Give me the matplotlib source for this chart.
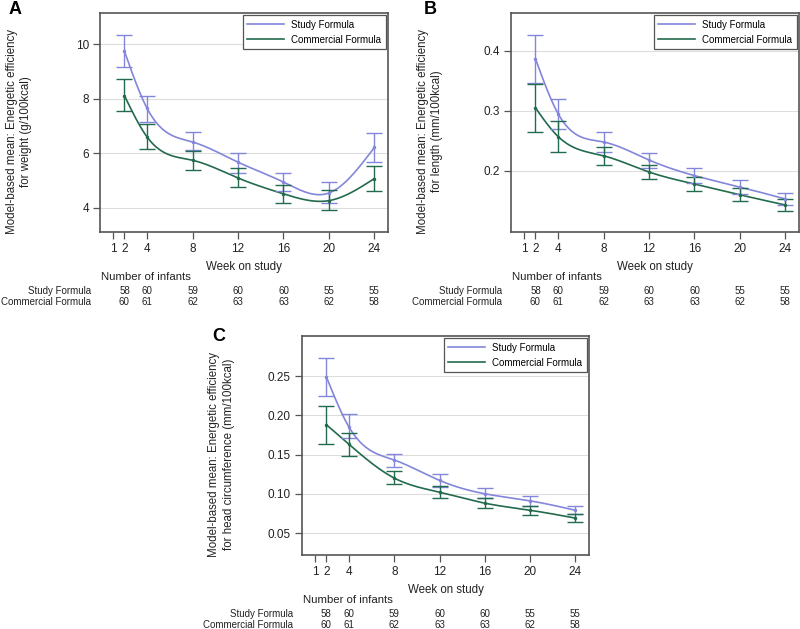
import numpy as np
import matplotlib
matplotlib.use('Agg')
import matplotlib.pyplot as plt
from matplotlib.transforms import blended_transform_factory

plt.rcParams['font.family'] = ['Liberation Sans', 'DejaVu Sans']

weeks = [2, 4, 8, 12, 16, 20, 24]
tick_weeks = [1, 2, 4, 8, 12, 16, 20, 24]
n_study = [58, 60, 59, 60, 60, 55, 55]
n_comm = [60, 61, 62, 63, 63, 62, 58]

# panel A: weight (g/100kcal)
a_study = [9.75, 7.65, 6.42, 5.68, 4.95, 4.55, 6.22]
a_study_lo = [9.18, 7.15, 6.12, 5.30, 4.62, 4.18, 5.68]
a_study_hi = [10.35, 8.12, 6.80, 6.02, 5.30, 4.95, 6.75]
a_comm = [8.12, 6.60, 5.75, 5.10, 4.52, 4.27, 5.08]
a_comm_lo = [7.55, 6.15, 5.40, 4.78, 4.20, 3.92, 4.62]
a_comm_hi = [8.72, 7.08, 6.10, 5.45, 4.85, 4.65, 5.55]

# panel B: length (mm/100kcal)
b_study = [0.387, 0.295, 0.248, 0.218, 0.192, 0.173, 0.153]
b_study_lo = [0.347, 0.270, 0.232, 0.205, 0.180, 0.162, 0.143]
b_study_hi = [0.427, 0.320, 0.265, 0.230, 0.205, 0.185, 0.163]
b_comm = [0.305, 0.257, 0.225, 0.198, 0.178, 0.160, 0.143]
b_comm_lo = [0.265, 0.232, 0.210, 0.187, 0.166, 0.150, 0.133]
b_comm_hi = [0.345, 0.283, 0.240, 0.210, 0.190, 0.172, 0.153]

# panel C: head circumference (mm/100kcal)
c_study = [0.249, 0.185, 0.143, 0.117, 0.100, 0.091, 0.079]
c_study_lo = [0.224, 0.171, 0.134, 0.109, 0.094, 0.085, 0.074]
c_study_hi = [0.273, 0.201, 0.151, 0.125, 0.107, 0.097, 0.085]
c_comm = [0.188, 0.163, 0.120, 0.102, 0.088, 0.079, 0.069]
c_comm_lo = [0.163, 0.148, 0.112, 0.095, 0.082, 0.073, 0.064]
c_comm_hi = [0.212, 0.178, 0.129, 0.110, 0.095, 0.085, 0.074]

STUDY_COLOR = '#8386da'
COMM_COLOR = '#236b4d'
SPINE_COLOR = '#555555'
TEXT_COLOR = '#222222'


def smooth_curve(x, y, num=300):
    # natural cubic spline, only used to draw the line through the points
    x = np.asarray(x, float)
    y = np.asarray(y, float)
    n = len(x)
    h = np.diff(x)
    A = np.zeros((n, n))
    r = np.zeros(n)
    A[0, 0] = A[-1, -1] = 1.0
    for i in range(1, n - 1):
        A[i, i - 1] = h[i - 1]
        A[i, i] = 2 * (h[i - 1] + h[i])
        A[i, i + 1] = h[i]
        r[i] = 6 * ((y[i + 1] - y[i]) / h[i] - (y[i] - y[i - 1]) / h[i - 1])
    m = np.linalg.solve(A, r)
    xs = np.linspace(x[0], x[-1], num)
    idx = np.clip(np.searchsorted(x, xs) - 1, 0, n - 2)
    x0, x1 = x[idx], x[idx + 1]
    hh = x1 - x0
    t0, t1 = x1 - xs, xs - x0
    ys = (m[idx] * t0 ** 3 / (6 * hh) + m[idx + 1] * t1 ** 3 / (6 * hh)
          + (y[idx] / hh - m[idx] * hh / 6) * t0
          + (y[idx + 1] / hh - m[idx + 1] * hh / 6) * t1)
    return xs, ys


def draw_panel(fig, rect, letter, letter_xy, ylabel, ylim, yticks, yfmt, series):
    W = fig.get_size_inches()[0] * fig.dpi
    H = fig.get_size_inches()[1] * fig.dpi
    ax = fig.add_axes(rect)
    for vals, lo, hi, color, label in series:
        xs, ys = smooth_curve(weeks, vals)
        ax.plot(xs, ys, color=color, lw=1.2, label=label, zorder=3)
        err = [np.array(vals) - np.array(lo), np.array(hi) - np.array(vals)]
        ax.errorbar(weeks, vals, yerr=err, fmt='none', ecolor=color,
                    elinewidth=1.0, capsize=5.5, capthick=1.0, zorder=4)
        ax.plot(weeks, vals, 'o', ms=1.5, color=color, zorder=5)

    ax.set_xlim(-0.15, 25.2)
    ax.set_ylim(*ylim)
    ax.set_xticks(tick_weeks)
    ax.set_yticks(yticks)
    ax.set_yticklabels([yfmt.format(v) for v in yticks])
    ax.yaxis.grid(True, color='#dddddd', lw=0.8)
    ax.set_axisbelow(True)
    for s in ax.spines.values():
        s.set_color(SPINE_COLOR)
        s.set_linewidth(1.2)
    ax.tick_params(direction='out', length=5, width=0.9, color=SPINE_COLOR,
                   labelsize=8.5, labelcolor=TEXT_COLOR, pad=3)
    ax.set_xlabel('Week on study', fontsize=8.3, labelpad=4, color=TEXT_COLOR)
    ax.set_ylabel(ylabel, fontsize=8.3, color=TEXT_COLOR, linespacing=1.25)
    ax.yaxis.set_label_coords(-0.235, 0.46)

    leg = ax.legend(loc='upper right', fontsize=7, handlelength=3.8,
                    fancybox=False, framealpha=1, borderpad=0.45,
                    labelspacing=0.5, handletextpad=0.7,
                    borderaxespad=0.25, edgecolor=SPINE_COLOR)
    leg.get_frame().set_linewidth(0.9)

    # number of infants table
    bottom = rect[1]
    tr = blended_transform_factory(ax.transData, fig.transFigure)
    fig.text(rect[0] + 1 / W, bottom - 45 / H, 'Number of infants',
             fontsize=8.2, va='center', ha='left', color=TEXT_COLOR)
    x_lab = rect[0] - 9 / W
    fig.text(x_lab, bottom - 59 / H, 'Study Formula', fontsize=7,
             va='center', ha='right', color=TEXT_COLOR)
    fig.text(x_lab, bottom - 70 / H, 'Commercial Formula', fontsize=7,
             va='center', ha='right', color=TEXT_COLOR)
    for wk, ns, nc in zip(weeks, n_study, n_comm):
        ax.text(wk, bottom - 59 / H, str(ns), transform=tr, fontsize=7,
                ha='center', va='center', color=TEXT_COLOR, clip_on=False)
        ax.text(wk, bottom - 70 / H, str(nc), transform=tr, fontsize=7,
                ha='center', va='center', color=TEXT_COLOR, clip_on=False)

    fig.text(letter_xy[0] / W, 1 - letter_xy[1] / H, letter,
             fontsize=13, fontweight='bold', ha='left', va='top')
    return ax


fig = plt.figure(figsize=(8, 6.29), dpi=100)

draw_panel(fig, [100 / 800, 1 - 232 / 629, 288 / 800, 219 / 629], 'A', (9, 1),
           'Model-based mean: Energetic efficiency\nfor weight (g/100kcal)',
           (3.12, 11.15), [4, 6, 8, 10], '{:.0f}',
           [(a_study, a_study_lo, a_study_hi, STUDY_COLOR, 'Study Formula'),
            (a_comm, a_comm_lo, a_comm_hi, COMM_COLOR, 'Commercial Formula')])

draw_panel(fig, [511 / 800, 1 - 232 / 629, 288 / 800, 219 / 629], 'B', (424, 1),
           'Model-based mean: Energetic efficiency\nfor length (mm/100kcal)',
           (0.098, 0.463), [0.2, 0.3, 0.4], '{:.1f}',
           [(b_study, b_study_lo, b_study_hi, STUDY_COLOR, 'Study Formula'),
            (b_comm, b_comm_lo, b_comm_hi, COMM_COLOR, 'Commercial Formula')])

draw_panel(fig, [302 / 800, 1 - 555 / 629, 287 / 800, 219 / 629], 'C', (212, 328),
           'Model-based mean: Energetic efficiency\nfor head circumference (mm/100kcal)',
           (0.022, 0.301), [0.05, 0.10, 0.15, 0.20, 0.25], '{:.2f}',
           [(c_study, c_study_lo, c_study_hi, STUDY_COLOR, 'Study Formula'),
            (c_comm, c_comm_lo, c_comm_hi, COMM_COLOR, 'Commercial Formula')])

fig.savefig('out.png', dpi=100)
